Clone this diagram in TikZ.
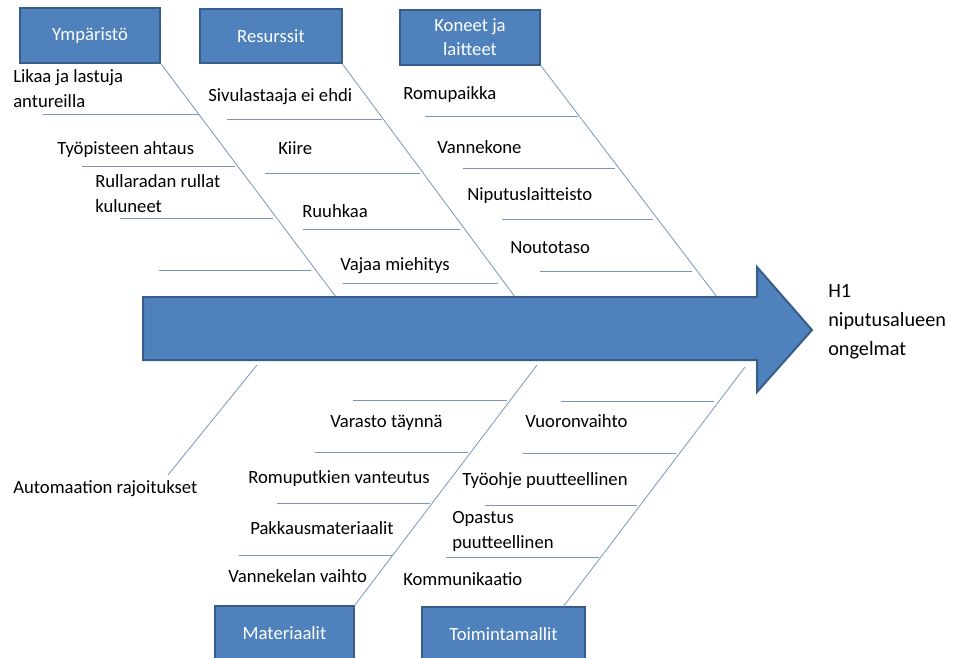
\documentclass[tikz,border=0pt]{standalone}
\usepackage{fontspec}
\setmainfont{Carlito}
\usetikzlibrary{positioning}
\definecolor{FishBlue}{RGB}{79,129,189}
\definecolor{FishEdge}{RGB}{56,93,138}
\definecolor{BoneLine}{RGB}{120,150,192}

\begin{document}
\begin{tikzpicture}[x=0.75pt,y=-0.75pt,
  category/.style={draw=FishEdge,fill=FishBlue,line width=1.5pt,
                   minimum height=41pt,align=center,text=white,
                   font=\fontsize{14}{18}\selectfont,inner sep=2pt},
  cause/.style={anchor=base west,inner sep=0pt,align=left,
                font=\fontsize{14}{18.5}\selectfont},
  bone/.style={draw=BoneLine,line width=0.6pt},
]
\useasboundingbox (0,0) rectangle (960,657);
\clip (0,0) rectangle (960,657);

% category boxes
\node[category,minimum width=105pt] (env) at (90,35.5) {Ympäristö};
\node[category,minimum width=106pt] (res) at (271,36) {Resurssit};
\node[category,minimum width=105pt] (mach) at (470,37.5) {Koneet ja\\laitteet};
\node[category,minimum width=104pt] (mat) at (284.5,633.5) {Materiaalit};
\node[category,minimum width=122pt] (ops) at (503.5,634.5) {Toimintamallit};

% where the bones meet the spine
\coordinate (envEnd) at (336,297);
\coordinate (resEnd) at (515,297);
\coordinate (machEnd) at (717,297);
\coordinate (autoTop) at (257,365);
\coordinate (autoEnd) at (168,475);
\coordinate (matTop) at (537,365);
\coordinate (opsTop) at (745,367);
\coordinate (opsEnd) at (563,607);

\draw[bone] (env.south east) -- (envEnd);
\draw[bone] (res.south east) -- (resEnd);
\draw[bone] (mach.south east) -- (machEnd);
\draw[bone] (autoTop) -- (autoEnd);
\draw[bone] (matTop) -- (mat.north east);
\draw[bone] (opsTop) -- (opsEnd);

% ribs
\foreach \ya/\xa/\xb [count=\i] in {114/43/199, 166/82/235, 218/120/273, 270/159/311,
    119/227/382, 173/265/420, 229/303/460, 283/343/498,
    116/425/578, 168/463/615, 219/502/653, 271/540/692,
    400/353/507, 452/315/468, 503/277/430, 555/239/393,
    401/561/714, 453/523/676, 505/485/637, 557/446/599}
{
  \coordinate (rib\i-l) at (\xa,\ya);
  \coordinate (rib\i-r) at (\xb,\ya);
  \draw[bone] (rib\i-l) -- (rib\i-r);
}

% spine
\draw[draw=FishEdge,fill=FishBlue,line width=1.5pt,line join=miter]
  (143,297) -- (757,297) -- (757,267) -- (812,330) -- (757,392)
  -- (757,360) -- (143,360) -- cycle;
\coordinate (spineTip) at (812,330);

% causes: Ympäristö
\node[cause] (dirt) at (13,107) {Likaa ja lastuja\\antureilla};
\node[cause] (cramp) at (57,154) {Työpisteen ahtaus};
\node[cause] (roll) at (95,212) {Rullaradan rullat\\kuluneet};
% causes: Resurssit
\node[cause] (side) at (208,101) {Sivulastaaja ei ehdi};
\node[cause] (rush) at (278,154) {Kiire};
\node[cause] (jam) at (302,217) {Ruuhkaa};
\node[cause] (crew) at (340,270) {Vajaa miehitys};
% causes: Koneet ja laitteet
\node[cause] (scrap) at (403,99) {Romupaikka};
\node[cause] (strap) at (437,153) {Vannekone};
\node[cause] (bundle) at (467,200) {Niputuslaitteisto};
\node[cause] (pickup) at (510,253) {Noutotaso};
% causes: below
\node[cause] (auto) at (13,493) {Automaation rajoitukset};
\node[cause] (store) at (330,427) {Varasto täynnä};
\node[cause] (pipes) at (248,483) {Romuputkien vanteutus};
\node[cause] (pack) at (250,534) {Pakkausmateriaalit};
\node[cause] (coil) at (228,582) {Vannekelan vaihto};
\node[cause] (shift) at (525,427) {Vuoronvaihto};
\node[cause] (instr) at (462,485) {Työohje puutteellinen};
\node[cause] (guide) at (452,548) {Opastus\\puutteellinen};
\node[cause] (comm) at (403,585) {Kommunikaatio};

% effect
\node[cause,font=\fontsize{15.2}{21.5}\selectfont] (effect) at (828,355)
  {H1\\niputusalueen\\ongelmat};
\end{tikzpicture}
\end{document}
